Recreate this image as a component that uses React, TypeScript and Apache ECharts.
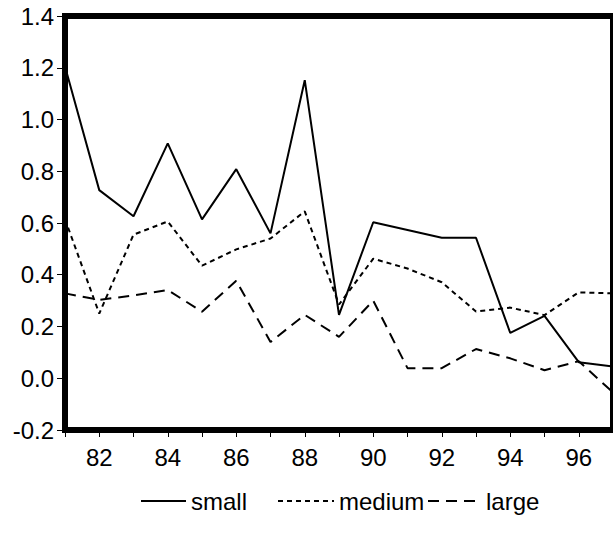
import React, { useEffect, useRef } from "react";
import * as echarts from "echarts";

const years = ["81", "82", "83", "84", "85", "86", "87", "88", "89", "90", "91", "92", "93", "94", "95", "96", "97"];
const small = [1.205, 0.727, 0.626, 0.908, 0.614, 0.808, 0.56, 1.152, 0.245, 0.603, 0.573, 0.543, 0.543, 0.175, 0.241, 0.062, 0.045];
const medium = [0.615, 0.25, 0.555, 0.606, 0.435, 0.498, 0.54, 0.645, 0.285, 0.462, 0.424, 0.371, 0.258, 0.273, 0.244, 0.332, 0.328];
const large = [0.328, 0.303, 0.32, 0.341, 0.257, 0.377, 0.14, 0.245, 0.16, 0.3, 0.039, 0.039, 0.113, 0.077, 0.031, 0.066, -0.055];

const FONT = "'Liberation Sans', Arial, sans-serif";

export default function App() {
  const ref = useRef<HTMLDivElement>(null);
  useEffect(() => {
    if (!ref.current) return;
    const chart = echarts.init(ref.current, undefined, { renderer: "svg" });
    const legendBase = {
      top: 489,
      padding: 0,
      itemHeight: 14,
      itemStyle: { opacity: 0 },
      textStyle: { fontFamily: FONT, fontSize: 24, color: "#000", padding: [8, 0, 0, 0] },
      inactiveColor: "#000",
      selectedMode: false,
    };
    chart.setOption({
      animation: false,
      backgroundColor: "#fff",
      grid: {
        left: 65,
        top: 16,
        width: 551,
        height: 414,
        show: true,
        borderWidth: 6,
        borderColor: "#000",
        containLabel: false,
      },
      legend: [
        { ...legendBase, left: 140, itemWidth: 45, data: [{ name: "small" }] },
        { ...legendBase, left: 277, itemWidth: 56, data: [{ name: "medium" }] },
        { ...legendBase, left: 427, itemWidth: 53, data: [{ name: "large" }] },
      ],
      xAxis: {
        type: "category",
        data: years,
        boundaryGap: false,
        axisLine: { show: true, onZero: false, lineStyle: { color: "#000", width: 6 } },
        axisTick: { show: true, interval: 0, length: 7, lineStyle: { color: "#000", width: 1 } },
        axisLabel: {
          interval: (i: number) => i % 2 === 1,
          margin: 15,
          fontFamily: FONT,
          fontSize: 24,
          color: "#000",
        },
        splitLine: { show: false },
      },
      yAxis: {
        type: "value",
        min: -0.2,
        max: 1.4,
        interval: 0.2,
        axisLine: { show: true, onZero: false, lineStyle: { color: "#000", width: 6 } },
        axisTick: { show: true, length: 8, lineStyle: { color: "#000", width: 1 } },
        axisLabel: {
          margin: 11,
          fontFamily: FONT,
          fontSize: 24,
          color: "#000",
          formatter: (v: number) => v.toFixed(1),
        },
        splitLine: { show: false },
      },
      series: [
        {
          name: "small",
          type: "line",
          data: small,
          symbol: "none",
          itemStyle: { color: "#000" },
          lineStyle: { color: "#000", width: 2, type: "solid" },
        },
        {
          name: "medium",
          type: "line",
          data: medium,
          symbol: "none",
          itemStyle: { color: "#000" },
          lineStyle: { color: "#000", width: 2, type: [5, 4] },
        },
        {
          name: "large",
          type: "line",
          data: large,
          symbol: "none",
          itemStyle: { color: "#000" },
          lineStyle: { color: "#000", width: 2, type: [11, 7] },
        },
      ],
    });
    return () => chart.dispose();
  }, []);
  return (
    <div
      ref={ref}
      style={{ position: "fixed", left: 0, top: 0, width: 613, height: 534, background: "#fff" }}
    />
  );
}
